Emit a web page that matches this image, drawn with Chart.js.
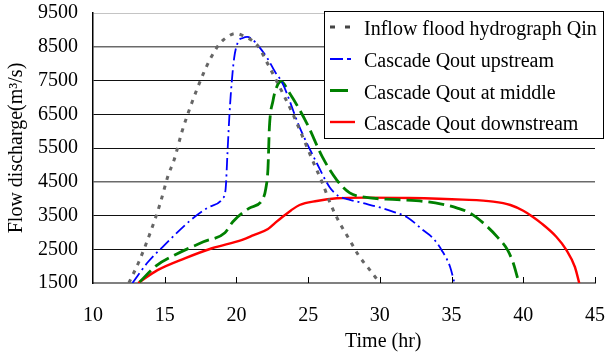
<!DOCTYPE html>
<html><head><meta charset="utf-8">
<script src="https://cdn.jsdelivr.net/npm/chart.js@4/dist/chart.umd.min.js"></script>
<style>html,body{margin:0;padding:0;background:#fff;}canvas{display:block;}</style>
</head><body>
<canvas id="c" width="605" height="356"></canvas>
<script>
// ---- data ----
const seriesNames = ["Inflow flood hydrograph Qin", "Cascade Qout upstream", "Cascade Qout at middle", "Cascade Qout downstream"];

const tIn = [12.5, 13.2, 14.0, 14.65, 15.25, 15.65, 16.2, 16.9, 17.7, 18.2, 18.85, 19.4, 19.9, 20.5, 21.5, 22.2, 22.9, 23.9, 24.6, 25.3, 26.0, 26.6, 27.2, 27.9, 28.5, 29.2, 30.0];
const qIn = [1500, 2130, 3000, 3810, 4700, 5140, 5980, 6850, 7710, 8160, 8600, 8800, 8890, 8820, 8520, 7980, 7400, 6540, 5850, 5140, 4460, 3800, 3280, 2770, 2330, 1940, 1500];

const tUp = [12.75, 13.85, 15.0, 16.75, 18.0, 19.05, 19.25, 19.38, 19.5, 19.62, 19.84, 20.12, 20.45, 20.75, 21.1, 21.6, 22.2, 22.7, 23.2, 24.4, 25.6, 26.5, 27.1, 27.8, 28.8, 30.0, 31.0, 31.9, 33.0, 33.7, 34.3, 34.9, 35.2];
const qUp = [1500, 2130, 2630, 3340, 3730, 4010, 4300, 5390, 6380, 7170, 8160, 8650, 8760, 8790, 8720, 8490, 8130, 7750, 7430, 6120, 5055, 4340, 4080, 3980, 3870, 3740, 3600, 3450, 3070, 2830, 2480, 1974, 1500];

const tMid = [13.25, 14.4, 15.7, 17.7, 19.2, 19.75, 20.9, 21.8, 22.05, 22.2, 22.3, 22.55, 22.8, 23.1, 23.7, 24.9, 26.0, 27.0, 27.9, 28.8, 31.2, 33.0, 34.3, 35.4, 36.3, 37.2, 38.2, 38.9, 39.3, 39.6, 39.7];
const qMid = [1530, 2010, 2330, 2720, 2990, 3316, 3720, 3960, 4300, 4900, 6120, 6900, 7300, 7470, 7130, 6240, 5230, 4550, 4170, 4050, 3970, 3920, 3840, 3720, 3570, 3280, 2860, 2480, 2090, 1650, 1500];

const tDown = [13.15, 14.5, 16.4, 18.3, 20.4, 21.2, 22.2, 22.7, 23.2, 23.8, 24.4, 25.6, 27.0, 29.0, 32.0, 35.8, 37.9, 39.1, 40.0, 40.7, 41.2, 42.3, 43.0, 43.6, 43.9];
const qDown = [1500, 1880, 2230, 2530, 2780, 2920, 3100, 3280, 3456, 3650, 3811, 3930, 4010, 4030, 4020, 3970, 3910, 3811, 3640, 3450, 3290, 2870, 2480, 1974, 1500];

const xTicks = [10, 15, 20, 25, 30, 35, 40, 45];
const yTicks = [1500, 2500, 3500, 4500, 5500, 6500, 7500, 8500, 9500];
const xTitle = "Time (hr)";
const yTitle = "Flow discharge(m\u00B3/s)";

// ---- build ----
const pts = (t, q) => t.map((v, i) => ({x: v, y: q[i]}));
const FONT = "'Liberation Serif', 'Times New Roman', serif";

const styles = [
  {color: '#666666', width: 3,   dash: [4, 6],         legDash: [5, 10],        legColor: '#444444', legW: 3,   legLen: 22},
  {color: '#0000ff', width: 1.8, dash: [12, 4, 2, 4],  legDash: [13, 4, 4, 10], legColor: '#0000ff', legW: 2,   legLen: 22},
  {color: '#008000', width: 2.8, dash: [16, 6],        legDash: [],             legColor: '#008000', legW: 3,   legLen: 18},
  {color: '#ff0000', width: 2.4, dash: [],             legDash: [],             legColor: '#ff0000', legW: 2.4, legLen: 25}
];
const dataArr = [pts(tIn, qIn), pts(tUp, qUp), pts(tMid, qMid), pts(tDown, qDown)];

const datasets = dataArr.map((d, i) => ({
  label: seriesNames[i],
  data: d,
  borderColor: styles[i].color,
  borderWidth: styles[i].width,
  borderDash: styles[i].dash,
  pointRadius: 0,
  fill: false,
  cubicInterpolationMode: 'monotone'
}));

const extras = {
  id: 'extras',
  afterDatasetsDraw(chart) {
    const ctx = chart.ctx, xs = chart.scales.x, ca = chart.chartArea;
    ctx.save();
    ctx.strokeStyle = '#000';
    ctx.lineWidth = 1;
    xTicks.forEach(v => {
      if (v === xTicks[0]) return;
      const px = Math.round(xs.getPixelForValue(v)) + 0.5;
      ctx.beginPath();
      ctx.moveTo(px, ca.bottom);
      ctx.lineTo(px, ca.bottom - 6);
      ctx.stroke();
    });
    ctx.restore();
  },
  afterDraw(chart) {
    const ctx = chart.ctx;
    ctx.save();
    // legend box
    ctx.fillStyle = '#fff';
    ctx.fillRect(324, 11, 280, 127);
    ctx.strokeStyle = '#000';
    ctx.lineWidth = 1;
    ctx.strokeRect(324.5, 11.5, 279, 127);
    const baselines = [35, 67, 98.5, 130];
    ctx.font = "20px " + FONT;
    ctx.textBaseline = 'alphabetic';
    ctx.textAlign = 'left';
    seriesNames.forEach((n, i) => {
      const s = styles[i];
      const yl = baselines[i] - 8;
      ctx.beginPath();
      ctx.setLineDash(s.legDash);
      ctx.strokeStyle = s.legColor;
      ctx.lineWidth = s.legW;
      ctx.moveTo(330, yl);
      ctx.lineTo(330 + s.legLen, yl);
      ctx.stroke();
      ctx.setLineDash([]);
      ctx.fillStyle = '#000';
      ctx.fillText(n, 364, baselines[i]);
    });
    // x axis title
    ctx.fillStyle = '#000';
    ctx.textAlign = 'left';
    ctx.fillText(xTitle, 345, 347);
    ctx.restore();
  }
};

new Chart(document.getElementById('c'), {
  type: 'line',
  data: {datasets},
  plugins: [extras],
  options: {
    responsive: false,
    animation: false,
    layout: {padding: {top: 13, right: 10, left: 0, bottom: 0}},
    plugins: {legend: {display: false}, tooltip: {enabled: false}},
    scales: {
      x: {
        type: 'linear', min: 10, max: 45,
        afterBuildTicks: s => { s.ticks = xTicks.map(v => ({value: v})); },
        afterFit: s => { s.height = 73; s.paddingLeft = 0; s.paddingRight = 0; },
        grid: {display: false},
        border: {display: true, color: '#808080', width: 2},
        ticks: {color: '#000', font: {family: FONT, size: 20}, padding: 13, maxRotation: 0,
                callback: v => String(v)}
      },
      y: {
        type: 'linear', min: 1500, max: 9500,
        afterBuildTicks: s => { s.ticks = yTicks.map(v => ({value: v})); },
        afterFit: s => { s.width = 93; s.paddingTop = 0; s.paddingBottom = 0; },
        grid: {
          drawTicks: false,
          color: c => {
            const v = c.tick && c.tick.value;
            if (v === 9500) return '#c4c4c4';
            if (v === 1500) return 'rgba(0,0,0,0)';
            if (v === 8500 || v === 4500) return '#6a6a6a';
            return '#111111';
          },
          lineWidth: c => ((c.tick && (c.tick.value === 8500 || c.tick.value === 4500)) ? 1.6 : 1)
        },
        border: {display: true, color: '#000', width: 1.5},
        ticks: {color: '#000', font: {family: FONT, size: 20}, padding: 15, callback: v => String(v)},
        title: {display: true, text: yTitle, color: '#000', font: {family: FONT, size: 20}, padding: {top: 5, bottom: 0}}
      }
    }
  }
});
</script>
</body></html>
